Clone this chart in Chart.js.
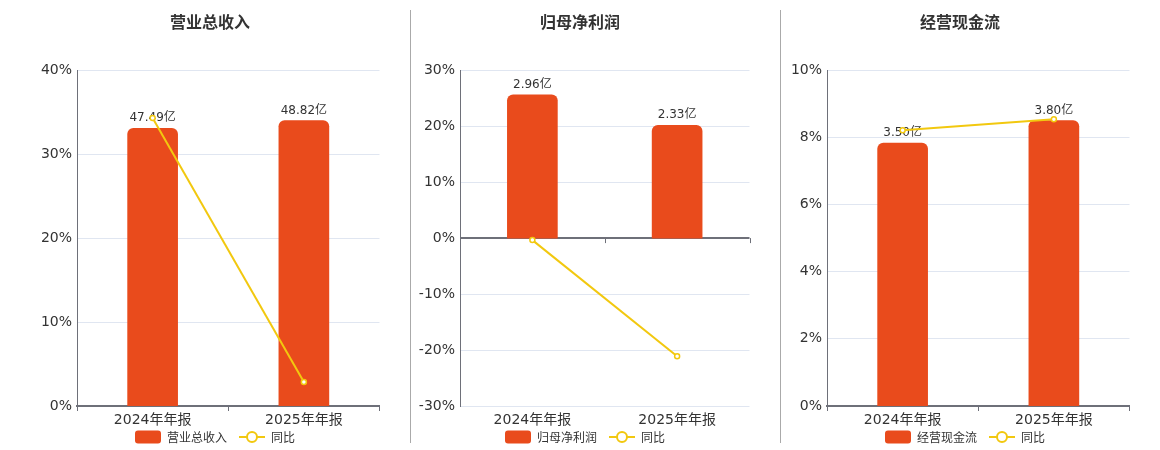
<!DOCTYPE html>
<html>
<head>
<meta charset="utf-8">
<script src="https://cdn.jsdelivr.net/npm/chart.js@4"></script>
<style>
body { margin:0; background:#fff; }
#wrap { position:relative; width:1160px; height:450px; overflow:hidden; }
.box { position:absolute; top:0; width:345px; height:453px; }
.sep { position:absolute; top:10px; height:433px; width:1px; background:#aaaaaa; }
</style>
</head>
<body>
<div id="wrap">
  <div class="box" style="left:40px"><canvas id="c1"></canvas></div>
  <div class="box" style="left:410px"><canvas id="c2"></canvas></div>
  <div class="box" style="left:790px"><canvas id="c3"></canvas></div>
  <div class="sep" style="left:410px"></div>
  <div class="sep" style="left:780px"></div>
</div>
<script>
// data
const categories = ['2024年年报', '2025年年报'];

const revenueValues = [47.49, 48.82];   // 亿
const revenueYoy = [34.3, 2.87];        // %
const revenueTicks = [0, 10, 20, 30, 40];

const profitValues = [2.96, 2.33];
const profitYoy = [-0.36, -21.1];
const profitTicks = [-30, -20, -10, 0, 10, 20, 30];

const cashValues = [3.50, 3.80];
const cashYoy = [8.21, 8.54];
const cashTicks = [0, 2, 4, 6, 8, 10];

const BAR_COLOR = '#e94b1c';
const LINE_COLOR = '#f2c80f';
const AXIS_COLOR = '#6e7079';
const GRID_COLOR = '#e0e6f1';
const TEXT_COLOR = '#333';
const FONT = '"DejaVu Sans", "Noto Sans CJK SC", sans-serif';

// legend icons (blank on the left gives the gap between items)
const GAP = 10;
function barIcon() {
  const c = document.createElement('canvas');
  c.width = 26 + GAP; c.height = 14;
  const g = c.getContext('2d');
  g.fillStyle = BAR_COLOR;
  g.beginPath();
  g.roundRect(GAP, 0.5, 26, 13, 3);
  g.fill();
  return c;
}
function lineIcon() {
  const c = document.createElement('canvas');
  c.width = 26 + GAP; c.height = 14;
  const g = c.getContext('2d');
  g.strokeStyle = LINE_COLOR;
  g.lineWidth = 2;
  g.beginPath(); g.moveTo(GAP, 7); g.lineTo(GAP + 26, 7); g.stroke();
  g.fillStyle = '#fff';
  g.beginPath(); g.arc(GAP + 13, 7, 5, 0, Math.PI * 2); g.fill(); g.stroke();
  return c;
}

// value labels above bars
const barLabels = {
  id: 'barLabels',
  afterDatasetDraw(chart, args) {
    if (args.index !== 0) return;
    const ctx = chart.ctx;
    ctx.save();
    ctx.font = '12px ' + FONT;
    ctx.fillStyle = TEXT_COLOR;
    ctx.textAlign = 'center';
    ctx.textBaseline = 'bottom';
    args.meta.data.forEach((bar, i) => {
      const v = chart.data.datasets[0].data[i];
      ctx.fillText(v.toFixed(2) + '亿', bar.x, bar.y - 4);
    });
    ctx.restore();
  }
};

// small tick marks under the zero line when the axis has negative values
const zeroTicks = {
  id: 'zeroTicks',
  beforeDatasetsDraw(chart) {
    const y = chart.scales.y;
    if (y.min >= 0) return;
    const x = chart.scales.x;
    const y0 = y.getPixelForValue(0);
    const n = chart.data.labels.length;
    const ctx = chart.ctx;
    ctx.save();
    ctx.strokeStyle = AXIS_COLOR;
    ctx.lineWidth = 1;
    ctx.beginPath();
    for (let i = 0; i <= n; i++) {
      const px = Math.round(x.left + i * x.width / n) + 0.5;
      ctx.moveTo(px, y0);
      ctx.lineTo(px, y0 + 5);
    }
    ctx.stroke();
    ctx.restore();
  }
};

function makeChart(id, title, values, yoy, ticks, barMax, yWidth) {
  const lo = ticks[0], hi = ticks[ticks.length - 1];
  const hasNeg = lo < 0;
  const barMin = hasNeg ? -barMax : 0;
  return new Chart(document.getElementById(id), {
    type: 'bar',
    data: {
      labels: categories,
      datasets: [
        {
          type: 'bar', label: title, data: values, yAxisID: 'y1', order: 1,
          backgroundColor: BAR_COLOR, barThickness: 50,
          borderRadius: 6, borderSkipped: 'bottom'
        },
        {
          type: 'line', label: '同比', data: yoy, yAxisID: 'y', order: 0,
          borderColor: LINE_COLOR, borderWidth: 2, backgroundColor: '#fff',
          pointRadius: 2.5, pointBorderWidth: 1.5, pointBorderColor: LINE_COLOR,
          pointBackgroundColor: '#fff', tension: 0
        }
      ]
    },
    options: {
      responsive: true,
      maintainAspectRatio: false,
      animation: false,
      layout: { padding: { top: 0, right: 5, bottom: 0, left: 0 } },
      scales: {
        x: {
          offset: true,
          border: { color: hasNeg ? 'transparent' : AXIS_COLOR, width: 2 },
          grid: { offset: true, drawOnChartArea: false, color: hasNeg ? 'transparent' : AXIS_COLOR, tickLength: 5 },
          ticks: { color: TEXT_COLOR, font: { size: 14, family: FONT, lineHeight: 1 }, padding: 2 }
        },
        y: {
          min: lo, max: hi,
          afterBuildTicks: s => { s.ticks = ticks.map(v => ({ value: v })); },
          afterFit: s => { s.width = yWidth; },
          border: { color: AXIS_COLOR, width: 1 },
          grid: {
            drawTicks: false,
            color: c => (hasNeg && c.tick && c.tick.value === 0) ? AXIS_COLOR : GRID_COLOR,
            lineWidth: c => (hasNeg && c.tick && c.tick.value === 0) ? 2 : 1
          },
          ticks: { color: TEXT_COLOR, font: { size: 14, family: FONT }, padding: 5, callback: v => v + '%' }
        },
        y1: { display: false, min: barMin, max: barMax }
      },
      plugins: {
        title: {
          display: true, text: title, color: TEXT_COLOR,
          font: { size: 16, weight: 'bold', family: '"Noto Sans CJK SC", sans-serif' },
          padding: { top: 12, bottom: 39 }
        },
        legend: {
          position: 'bottom',
          labels: {
            usePointStyle: true, pointStyleWidth: 26 + GAP, boxHeight: 13,
            padding: 2, color: TEXT_COLOR,
            font: { size: 12, family: '"Noto Sans CJK SC", sans-serif' },
            generateLabels: () => [
              { text: title, pointStyle: barIcon(), datasetIndex: 0, fontColor: TEXT_COLOR, lineWidth: 0, strokeStyle: 'transparent' },
              { text: '同比', pointStyle: lineIcon(), datasetIndex: 1, fontColor: TEXT_COLOR, lineWidth: 0, strokeStyle: 'transparent' }
            ]
          }
        },
        tooltip: { enabled: false }
      }
    },
    plugins: [barLabels, zeroTicks]
  });
}

makeChart('c1', '营业总收入', revenueValues, revenueYoy, revenueTicks, 57.44, 37);
makeChart('c2', '归母净利润', profitValues, profitYoy, profitTicks, 3.47, 50);
makeChart('c3', '经营现金流', cashValues, cashYoy, cashTicks, 4.47, 37);
</script>
</body>
</html>
